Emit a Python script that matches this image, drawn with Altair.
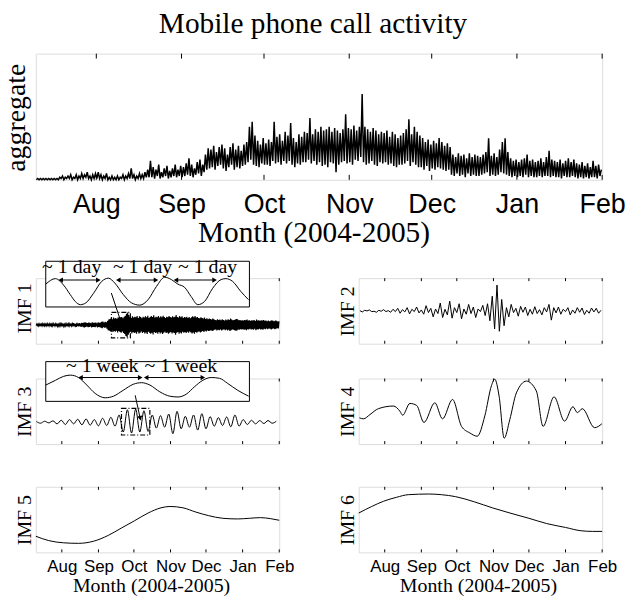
import altair as alt
import pandas as pd

# ---------------- data ----------------
# x is "days since 10 July 2004"; month ticks at the first day of each month
month_days = [22, 53, 83, 114, 144, 175, 206]
month_names = ["Aug", "Sep", "Oct", "Nov", "Dec", "Jan", "Feb"]
DAY_MAX = 206

# aggregate call activity: daily high and daily low (% of panel height)
agg_high = [
    1, 1, 1, 1, 1, 1, 1,
    1, 2, 3, 2, 3, 4, 2,
    4, 3, 5, 4, 6, 3, 4,
    5, 6, 4, 3, 5, 2, 3,
    2, 3, 2, 4, 3, 5, 9,
    4, 3, 5, 4, 6, 8, 15,
    10, 8, 12, 6, 9, 11, 7,
    9, 12, 8, 11, 10, 13, 17,
    12, 9, 14, 16, 12, 20, 25,
    24, 27, 22, 26, 28, 25, 20,
    26, 29, 24, 27, 23, 28, 30,
    42, 46, 35, 31, 28, 33, 29,
    32, 30, 46, 34, 36, 31, 38,
    35, 45, 33, 30, 36, 34, 38,
    37, 49, 36, 40, 38, 42, 39,
    40, 42, 38, 41, 39, 37, 40,
    52, 41, 40, 43, 39, 42, 68,
    42, 40, 38, 41, 39, 36, 38,
    37, 39, 34, 38, 36, 33, 35,
    37, 40, 48, 36, 42, 38, 35,
    33, 30, 32, 28, 31, 29, 33,
    30, 27, 29, 26, 20, 18, 21,
    19, 20, 17, 21, 18, 20, 19,
    18, 20, 22, 33, 19, 21, 18,
    24, 30, 33, 22, 17, 15, 16,
    14, 16, 17, 20, 15, 16, 14,
    15, 17, 14, 18, 23, 16, 15,
    14, 16, 13, 15, 17, 14, 16,
    13, 12, 14, 11, 13, 10, 15,
    11, 12, 8,
]
agg_low = [
    0, 0, 0, 0, 0, 0, 0,
    0, 0, 1, 0, 1, 1, 0,
    1, 0, 1, 1, 2, 1, 0,
    1, 1, 1, 0, 1, 0, 0,
    0, 0, 0, 1, 0, 1, 1,
    1, 0, 1, 1, 1, 2, 2,
    2, 1, 3, 1, 2, 3, 1,
    2, 3, 2, 3, 2, 3, 4,
    3, 2, 4, 5, 3, 6, 8,
    9, 10, 8, 11, 12, 9, 7,
    10, 12, 8, 10, 9, 11, 12,
    14, 16, 12, 11, 10, 13, 12,
    12, 11, 15, 13, 14, 12, 15,
    13, 15, 12, 10, 13, 12, 14,
    14, 16, 13, 15, 12, 14, 11,
    12, 10, 14, 13, 6, 12, 14,
    15, 13, 14, 12, 16, 15, 18,
    14, 12, 13, 15, 12, 11, 14,
    13, 14, 12, 13, 11, 10, 12,
    12, 13, 15, 11, 14, 12, 10,
    10, 8, 11, 7, 9, 8, 10,
    9, 8, 7, 8, 4, 3, 5,
    3, 4, 2, 5, 3, 4, 3,
    3, 4, 5, 6, 3, 4, 3,
    4, 6, 5, 4, 3, 2, 3,
    2, 3, 2, 4, 2, 3, 2,
    2, 3, 2, 3, 3, 2, 3,
    2, 2, 1, 3, 2, 2, 3,
    2, 1, 2, 1, 2, 1, 2,
    2, 1, 3,
]

# IMF 1: daily swing amplitude (hundredths)
imf1_amp = [
    2, 2, 3, 2, 2, 3, 2,
    3, 2, 3, 4, 3, 2, 3,
    3, 4, 3, 2, 4, 3, 3,
    3, 2, 4, 3, 3, 2, 3,
    3, 4, 3, 5, 4, 3, 6,
    4, 5, 4, 6, 5, 7, 8,
    6, 5, 7, 6, 5, 8, 6,
    6, 7, 5, 8, 6, 7, 9,
    10, 7, 9, 8, 12, 16, 18,
    20, 17, 22, 19, 21, 18, 23,
    19, 22, 24, 20, 25, 28, 34,
    38, 30, 24, 21, 26, 22, 25,
    23, 27, 21, 26, 24, 20, 25,
    22, 26, 23, 28, 21, 24, 27,
    24, 29, 22, 25, 23, 27, 22,
    26, 23, 28, 24, 21, 25, 23,
    27, 24, 22, 26, 23, 25, 30,
    24, 22, 27, 23, 26, 21, 24,
    22, 25, 21, 24, 20, 23, 26,
    23, 27, 22, 24, 21, 20, 23,
    21, 19, 22, 18, 20, 17, 19,
    18, 16, 19, 17, 15, 14, 17,
    15, 16, 14, 17, 15, 13, 16,
    14, 17, 15, 19, 16, 14, 15,
    16, 18, 17, 14, 15, 13, 14,
    13, 15, 14, 16, 13, 14, 12,
    14, 13, 15, 12, 16, 13, 14,
    12, 14, 13, 15, 12, 13, 11,
    13, 11, 12, 14, 12, 11, 13,
    12, 10, 11,
]

# IMF 2: successive turning values, one every 2 days
imf2_ext = [
    0.01, -0.03, 0.02, 0.00, 0.03, -0.02, -0.01, -0.04, 0.02, -0.01, 0.04, -0.02, 0.01, -0.04, 0.05,
    -0.02, 0.08, -0.07, 0.04, -0.03, 0.10, -0.09, 0.05, -0.02, 0.12, -0.06, 0.03, -0.10,
    0.16, -0.05, 0.08, -0.18, 0.06, -0.08, 0.24, -0.20, 0.05, -0.12,
    0.30, -0.22, 0.10, -0.05, 0.22, -0.24, 0.06, -0.10, 0.20, -0.08,
    0.12, -0.20, 0.06, -0.02, 0.17, -0.14, 0.22,
    -0.30, 0.45, -0.55, 0.79, -0.62, 0.35, -0.45,
    0.10, -0.18, 0.20, -0.05, 0.08, -0.16, 0.14, -0.04, 0.12, -0.14, 0.05, -0.10, 0.13, -0.08, 0.04, -0.12, 0.10, -0.03,
    0.20, -0.28, 0.10, -0.06, 0.12,
    -0.10, 0.05, -0.02, 0.10, -0.12, 0.03, -0.07, 0.10, -0.04, 0.09, -0.11, 0.02, -0.07, 0.09, -0.03, 0.08, -0.07, 0.02,
]

# IMF 3: successive extrema, one every 3.5 days
imf3_ext = [
    0.02, -0.03, 0.03, -0.02, 0.04, -0.05, 0.06, -0.07, 0.08, -0.05,
    0.09, -0.08, 0.10, -0.09, 0.08, -0.11, 0.12, -0.10, 0.15, -0.12,
    0.22, -0.30, 0.38, -0.33, 0.40, -0.30, 0.35, -0.28, 0.22, -0.18,
    0.20, -0.15, 0.25, -0.35, 0.33, -0.20, 0.18, -0.15, 0.22, -0.24,
    0.26, -0.20, 0.17, -0.12, 0.14, -0.10, 0.16, -0.14, 0.22, -0.12,
    0.08, -0.07, 0.06, -0.05, 0.05, -0.04, 0.05, -0.03, 0.03,
]

# IMF 4-6: smooth components (fraction of panel height)
imf4_day = [0.6, 4.0, 9.5, 16.6, 29.3, 34.9, 37.2, 43.3, 49.0, 55.2, 64.4, 70.9, 79.4, 87.0, 94.0,
            100.3, 106.7, 112.3, 115.1, 118.8, 123.1, 127.8, 133.4, 141.9, 150.3, 156.0, 165.3,
            174.2, 181.3, 185.0, 189.2, 199.6, 205.8]
imf4_val = [0.40, 0.385, 0.45, 0.54, 0.58, 0.50, 0.44, 0.62, 0.59, 0.33, 0.63, 0.385, 0.68, 0.27, 0.17,
            0.12, 0.43, 0.89, 0.99, 0.73, 0.09, 0.37, 0.78, 0.96, 0.81, 0.27, 0.72,
            0.35, 0.57, 0.48, 0.54, 0.25, 0.31]
imf5_day = [0, 10.9, 23.5, 36.2, 48.8, 61.4, 72.3, 83.3, 95, 106, 113.5, 124.5, 135.4, 146.3, 158.1,
            170.7, 180.8, 190.1, 198.5, 206]
imf5_val = [0.246, 0.18, 0.146, 0.138, 0.17, 0.26, 0.37, 0.48, 0.60, 0.68, 0.70, 0.68, 0.615, 0.56, 0.52,
            0.51, 0.52, 0.53, 0.515, 0.49]
imf6_day = [0, 11, 21, 32, 42, 59, 70, 82, 98, 113, 128, 144, 159, 175, 188, 198, 206]
imf6_val = [0.60, 0.70, 0.78, 0.84, 0.88, 0.89, 0.88, 0.85, 0.77, 0.68, 0.60, 0.52, 0.44, 0.38, 0.33, 0.32, 0.32]

# inset of IMF 1 (hours, ~3.5 days of the daily cycle)
inset1_t = [0.0, 4.0, 7.4, 10.2, 12.3, 14.4, 16.7, 19.9, 23.3, 26.1, 28.8, 32.3, 35.7, 39.2, 42.6,
            46.1, 49.5, 52.3, 55.0, 57.8, 60.5, 63.3, 66.1, 69.5, 73.0, 75.0, 77.8, 81.2, 84.4]
inset1_v = [0.50, 0.62, 0.48, 0.27, 0.12, 0.05, 0.09, 0.30, 0.56, 0.63, 0.52, 0.27, 0.09, 0.04, 0.16,
            0.45, 0.65, 0.60, 0.50, 0.43, 0.23, 0.05, 0.12, 0.41, 0.60, 0.62, 0.56, 0.34, 0.16]
inset1_span = [0.0, 84.8]
inset1_arrow_a = [6.2, 30.2, 54.2]
inset1_arrow_b = [21.9, 45.9, 70.3]
inset1_arrow_y = [0.59, 0.59, 0.59]
inset1_label_x = [10.8, 40.3, 67.4]
inset1_labels = ["~ 1 day", "~ 1 day", "~ 1 day"]

# inset of IMF 3 (days, ~3 weeks)
inset3_t = [0.0, 0.96, 1.78, 2.44, 3.25, 4.07, 4.9, 5.89, 6.71, 7.69, 8.68, 9.5, 10.33, 11.31, 12.3,
            13.12, 13.93, 14.76, 15.58, 16.4, 17.23, 18.05, 19.03, 20.12]
inset3_v = [0.41, 0.53, 0.63, 0.66, 0.60, 0.41, 0.20, 0.09, 0.13, 0.28, 0.43, 0.47, 0.41, 0.24, 0.13,
            0.11, 0.18, 0.37, 0.53, 0.60, 0.58, 0.45, 0.28, 0.13]
inset3_span = [0.0, 20.2]
inset3_arrow_a = [3.45, 9.96]
inset3_arrow_b = [9.37, 15.58]
inset3_arrow_y = [0.6, 0.6]
inset3_label_x = [5.6, 13.4]
inset3_labels = ["~ 1 week", "~ 1 week"]

# zoom markers (dash-dot boxes) and pointer arrows, in panel units
box1 = {"d0": 64.0, "d1": 80.0, "v0": -0.40, "v1": 0.38}
box3 = {"d0": 72.5, "d1": 96.5, "v0": -0.39, "v1": 0.42}
ptr1 = {"d0": 63.9, "v0": 0.97, "d1": 71.5, "v1": 0.15}
ptr3 = {"d0": 84.1, "v0": 0.82, "d1": 88.3, "v1": 0.12}

# ---------------- tables ----------------
agg_df = pd.DataFrame(
    [(d + 0.2, agg_low[d]) for d in range(DAY_MAX)] + [(d + 0.7, agg_high[d]) for d in range(DAY_MAX)],
    columns=["day", "v"]).sort_values("day")
imf1_df = pd.DataFrame(
    [(d + 0.25, -imf1_amp[d] / 100) for d in range(DAY_MAX)] + [(d + 0.75, imf1_amp[d] / 100) for d in range(DAY_MAX)],
    columns=["day", "v"]).sort_values("day")
imf2_df = pd.DataFrame({"day": [1 + 2 * k for k in range(len(imf2_ext))], "v": imf2_ext})
imf3_df = pd.DataFrame({"day": [0.5 + 3.5 * k for k in range(len(imf3_ext))], "v": imf3_ext})
imf4_df = pd.DataFrame({"day": imf4_day, "v": imf4_val})
imf5_df = pd.DataFrame({"day": imf5_day, "v": imf5_val})
imf6_df = pd.DataFrame({"day": imf6_day, "v": imf6_val})
ticks_df = pd.DataFrame({"day": month_days})

SERIF = "Liberation Serif"
SANS = "Liberation Sans"
LABEL_EXPR = "[%s][indexof([%s], datum.value)]" % (
    ",".join("'%s'" % m for m in month_names), ",".join(str(d) for d in month_days))

W_TOP, H_TOP = 570, 127
W_S, H_S = 245, 66


def x_scale():
    return alt.Scale(domain=[0, DAY_MAX], nice=False, zero=False)


def y_axis(title, size, tx, ty):
    return alt.Axis(title=title, labels=False, ticks=False, domain=False, grid=False,
                    titleFont=SERIF, titleFontSize=size, titleFontWeight="normal", titleColor="black",
                    titleAngle=270, titleBaseline="alphabetic", titleAlign="center",
                    titleX=tx, titleY=ty, titlePadding=0, minExtent=35, maxExtent=35)


def x_axis(label_size, label_pad, title_size, title_x, title_y):
    return alt.Axis(values=month_days, labelExpr=LABEL_EXPR, labelFont=SANS, labelFontSize=label_size,
                    labelColor="black", labelPadding=label_pad, labelFlush=False, labelOverlap=False,
                    labelBaseline="top", labelAlign="center", ticks=False, domain=False, grid=False,
                    title="Month (2004-2005)", titleFont=SERIF, titleFontSize=title_size,
                    titleFontWeight="normal", titleColor="black", titleBaseline="alphabetic",
                    titleAlign="center", titleX=title_x, titleY=title_y, titlePadding=0)


def inner_ticks(height, length):
    base = alt.Chart(ticks_df)
    top = base.mark_rule(color="black", strokeWidth=1).encode(
        x=alt.X("day:Q", scale=x_scale()), y=alt.value(0), y2=alt.value(length))
    bot = base.mark_rule(color="black", strokeWidth=1).encode(
        x=alt.X("day:Q", scale=x_scale()), y=alt.value(height - length), y2=alt.value(height))
    return [top, bot]


def imf_main(df, ydom, title, ty, xaxis, interp, width=1.0):
    ys = alt.Scale(domain=ydom, nice=False, zero=False)
    line = alt.Chart(df).mark_line(color="black", strokeWidth=width, interpolate=interp).encode(
        x=alt.X("day:Q", scale=x_scale(), axis=xaxis),
        y=alt.Y("v:Q", scale=ys, axis=y_axis(title, 20, -5, ty)))
    return line, ys


def dash_box(box, ys):
    return alt.Chart(pd.DataFrame([box])).mark_rect(
        filled=False, color="black", strokeWidth=1.2, strokeDash=[5, 2, 1, 2]).encode(
        x=alt.X("d0:Q", scale=x_scale()), x2="d1:Q",
        y=alt.Y("v0:Q", scale=ys), y2="v1:Q")


def pointer(ptr, ys, angle):
    df = pd.DataFrame([ptr])
    shaft = alt.Chart(df).mark_rule(color="black", strokeWidth=1).encode(
        x=alt.X("d0:Q", scale=x_scale(), axis=None), x2="d1:Q",
        y=alt.Y("v0:Q", scale=ys, axis=None), y2="v1:Q")
    head = alt.Chart(df).mark_point(shape="triangle-down", filled=True, size=28, color="black",
                                    opacity=1, angle=angle).encode(
        x=alt.X("d1:Q", scale=x_scale(), axis=None), y=alt.Y("v1:Q", scale=ys, axis=None))
    return alt.layer(shaft, head)


def inset(t, v, span, arr_a, arr_b, arr_y, lab_x, labels, xrange_, yrange_):
    xs = alt.Scale(domain=span, range=xrange_, nice=False, zero=False)
    ys = alt.Scale(domain=[0, 1], range=yrange_, nice=False, zero=False)
    box = alt.Chart(pd.DataFrame({"a": [span[0]], "b": [span[1]], "lo": [0], "hi": [1]})).mark_rect(
        fill="white", stroke="black", strokeWidth=1).encode(
        x=alt.X("a:Q", scale=xs, axis=None), x2="b:Q",
        y=alt.Y("lo:Q", scale=ys, axis=None), y2="hi:Q")
    wave = alt.Chart(pd.DataFrame({"t": t, "v": v})).mark_line(
        color="black", strokeWidth=1, interpolate="monotone").encode(
        x=alt.X("t:Q", scale=xs, axis=None), y=alt.Y("v:Q", scale=ys, axis=None))
    adf = pd.DataFrame({"a": arr_a, "b": arr_b, "y": arr_y})
    shaft = alt.Chart(adf).mark_rule(color="black", strokeWidth=1).encode(
        x=alt.X("a:Q", scale=xs, axis=None), x2="b:Q", y=alt.Y("y:Q", scale=ys, axis=None))
    head_l = alt.Chart(adf).mark_point(shape="triangle-left", filled=True, size=28, color="black",
                                       opacity=1).encode(
        x=alt.X("a:Q", scale=xs, axis=None), y=alt.Y("y:Q", scale=ys, axis=None))
    head_r = alt.Chart(adf).mark_point(shape="triangle-right", filled=True, size=28, color="black",
                                       opacity=1).encode(
        x=alt.X("b:Q", scale=xs, axis=None), y=alt.Y("y:Q", scale=ys, axis=None))
    ldf = pd.DataFrame({"x": lab_x, "y": [0.88] * len(lab_x), "s": labels})
    text = alt.Chart(ldf).mark_text(font=SERIF, fontSize=20, color="black", baseline="middle",
                                    align="center").encode(
        x=alt.X("x:Q", scale=xs, axis=None), y=alt.Y("y:Q", scale=ys, axis=None), text="s:N")
    return alt.layer(box, wave, shaft, head_l, head_r, text)


# ---------------- top panel ----------------
agg_ys = alt.Scale(domain=[0, 100], nice=False, zero=False)
agg_line = alt.Chart(agg_df).mark_line(color="black", strokeWidth=1.5).encode(
    x=alt.X("day:Q", scale=x_scale(), axis=x_axis(27, 12, 29.5, 279.5, 62)),
    y=alt.Y("v:Q", scale=agg_ys, axis=alt.Axis(
        title="aggregate", labels=False, ticks=False, domain=False, grid=False,
        titleFont=SERIF, titleFontSize=28, titleFontWeight="normal", titleColor="black",
        titleAngle=270, titleBaseline="alphabetic", titleAlign="center",
        titleX=-11, titleY=64, titlePadding=0, minExtent=35, maxExtent=35)))
top = alt.layer(agg_line, *inner_ticks(H_TOP, 5)).properties(
    width=W_TOP, height=H_TOP,
    title=alt.TitleParams("Mobile phone call activity", font=SERIF, fontSize=29.5, fontWeight="normal",
                          color="black", baseline="alphabetic", offset=-9, anchor="middle", dx=-6))

# ---------------- IMF panels ----------------
l1, ys1 = imf_main(imf1_df, [-0.576, 1.424], "IMF 1", 30, None, "linear", 1.2)
imf1 = alt.layer(
    alt.layer(l1, dash_box(box1, ys1), *inner_ticks(H_S, 3)),
    inset(inset1_t, inset1_v, inset1_span, inset1_arrow_a, inset1_arrow_b, inset1_arrow_y,
          inset1_label_x, inset1_labels, [10, 215], [29, -17]),
    pointer(ptr1, ys1, 342),
).resolve_scale(x="independent", y="independent").properties(width=W_S, height=H_S)

l2, _ = imf_main(imf2_df, [-1, 1], "IMF 2", 33, None, "linear")
imf2 = alt.layer(l2, *inner_ticks(H_S, 3)).properties(width=W_S, height=H_S)

l3, ys3 = imf_main(imf3_df, [-0.667, 1.333], "IMF 3", 33, None, "monotone")
imf3 = alt.layer(
    alt.layer(l3, dash_box(box3, ys3), *inner_ticks(H_S, 3)),
    inset(inset3_t, inset3_v, inset3_span, inset3_arrow_a, inset3_arrow_b, inset3_arrow_y,
          inset3_label_x, inset3_labels, [10, 215], [23, -17]),
    pointer(ptr3, ys3, 348),
).resolve_scale(x="independent", y="independent").properties(width=W_S, height=H_S)

l4, _ = imf_main(imf4_df, [0, 1], "IMF 4", 33, None, "monotone")
imf4 = alt.layer(l4, *inner_ticks(H_S, 3)).properties(width=W_S, height=H_S)

l5, _ = imf_main(imf5_df, [0, 1], "IMF 5", 33, x_axis(17, 6, 20, 116, 39), "monotone")
imf5 = alt.layer(l5, *inner_ticks(H_S, 3)).properties(width=W_S, height=H_S)

l6, _ = imf_main(imf6_df, [0, 1], "IMF 6", 33, x_axis(17, 6, 20, 120, 39), "monotone")
imf6 = alt.layer(l6, *inner_ticks(H_S, 3)).properties(width=W_S, height=H_S)

row1 = alt.hconcat(imf1, imf2, spacing=80, bounds="flush")
row2 = alt.hconcat(imf3, imf4, spacing=80, bounds="flush")
row3 = alt.hconcat(imf5, imf6, spacing=80, bounds="flush")

chart = alt.vconcat(
    alt.vconcat(top, alt.vconcat(row1, row2, spacing=11), spacing=9),
    row3, spacing=41,
).properties(
    padding={"left": -8, "top": -2, "right": 0, "bottom": 0}
).configure_view(stroke="black", strokeWidth=1).configure(background="white")

chart.save("out.html", embed_options={"renderer": "svg", "actions": False})
